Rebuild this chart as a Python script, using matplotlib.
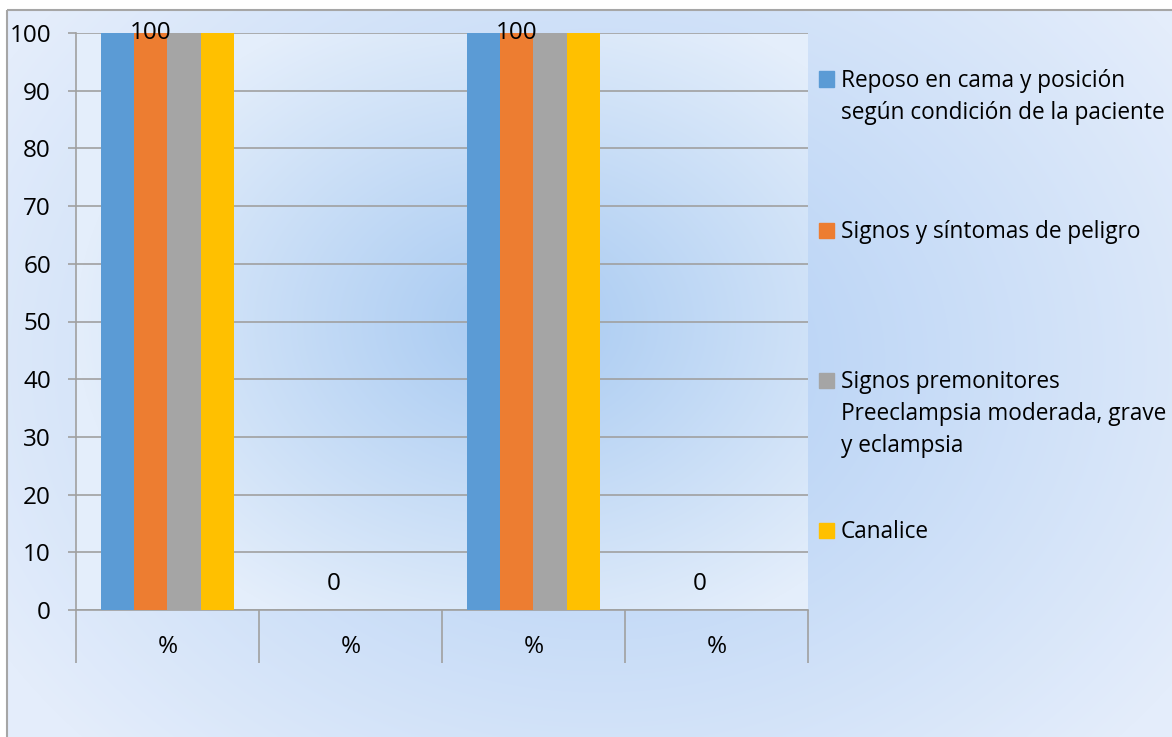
import matplotlib.pyplot as plt
import numpy as np
from matplotlib.patches import Rectangle

categories = ['%', '%', '%', '%']
series_names = [
    'Reposo en cama y posición\nsegún condición de la paciente',
    'Signos y síntomas de peligro',
    'Signos premonitores\nPreeclampsia moderada, grave\ny eclampsia',
    'Canalice',
]
series_values = [
    [100, 0, 100, 0],
    [100, 0, 100, 0],
    [100, 0, 100, 0],
    [100, 0, 100, 0],
]
colors = ['#5b9bd5', '#ed7d31', '#a5a5a5', '#ffc000']
labelled_series = 1  # only the second series carries data labels

W, H = 1172, 737
FS = 17.5
LEG_FS = 16.3
plt.rcParams['font.family'] = ['Open Sans', 'DejaVu Sans']
fig = plt.figure(figsize=(W / 100, H / 100), dpi=100)


def radial(w, h, cx, cy, sx, sy, c0, c1):
    yy, xx = np.mgrid[0:h, 0:w]
    r = np.sqrt(((xx - cx) / sx) ** 2 + ((yy - cy) / sy) ** 2)
    t = np.clip(r, 0, 1)[..., None]
    c0 = np.array(c0) / 255.0
    c1 = np.array(c1) / 255.0
    return c0 * (1 - t) + c1 * t


# chart area background
bg_ax = fig.add_axes([0, 0, 1, 1], zorder=-10)
bg = radial(W, H, 600, 360, 700, 560, (174, 205, 244), (228, 237, 251))
bg[:10, :, :] = 1.0
bg[:, :7, :] = 1.0
bg_ax.imshow(bg, aspect='auto', extent=(0, W, H, 0), interpolation='bilinear')
bg_ax.set_xlim(0, W)
bg_ax.set_ylim(H, 0)
bg_ax.axis('off')
bg_ax.add_patch(Rectangle((7, 10), W, H, fill=False, edgecolor='#a6a6a6', lw=1.5))

# plot area
x0, x1, y0, y1 = 76, 808, 33, 610
ax = fig.add_axes([x0 / W, (H - y1) / H, (x1 - x0) / W, (y1 - y0) / H])
ax.set_facecolor('none')
pa = radial(x1 - x0, y1 - y0, 440, 290, 440, 340, (166, 201, 241), (228, 238, 251))
ax.imshow(pa, aspect='auto', extent=(0, 1, 0, 1), transform=ax.transAxes,
          zorder=0, interpolation='bilinear')

n = len(series_values)
bw = 1 / 5.5
x = np.arange(len(categories))
for i, (name, vals) in enumerate(zip(series_names, series_values)):
    pos = x + (i - (n - 1) / 2) * bw
    ax.bar(pos, vals, width=bw, color=colors[i], zorder=3, label=name)
    if i == labelled_series:
        for p, v in zip(pos, vals):
            if v >= 95:
                ax.text(p, v, f'{v}', ha='center', va='center', fontsize=FS, zorder=4)
            else:
                ax.annotate(f'{v}', (p, v), xytext=(0, 19), textcoords='offset points',
                            ha='center', va='center', fontsize=FS, zorder=4)

ax.set_xlim(-0.5, len(categories) - 0.5)
ax.set_ylim(0, 100)
ax.set_yticks(range(0, 101, 10))
ax.yaxis.grid(True, color='#a0a0a0', lw=1.2, zorder=1)
ax.set_axisbelow(True)

ax.set_xticks(x)
ax.set_xticklabels(categories, fontsize=FS)
ax.set_xticks(np.arange(-0.5, len(categories)), minor=True)
ax.tick_params(axis='x', which='major', length=0, pad=18)
ax.tick_params(axis='x', which='minor', length=38, color='#a0a0a0', width=1.2)
ax.tick_params(axis='y', length=6, color='#a0a0a0', width=1.2, labelsize=FS, pad=12)

for s in ['top', 'right']:
    ax.spines[s].set_visible(False)
for s in ['left', 'bottom']:
    ax.spines[s].set_color('#a0a0a0')
    ax.spines[s].set_linewidth(1.2)

# legend drawn by hand to keep the wide spacing between entries
legend_y = [79, 230, 380, 530]
line_gap = 32
for name, c, ly in zip(series_names, colors, legend_y):
    fig.patches.append(Rectangle((819 / W, 1 - (ly + 7.5) / H), 15 / W, 15 / H,
                                 transform=fig.transFigure, color=c))
    for k, line in enumerate(name.split('\n')):
        fig.text(841 / W, 1 - (ly + 8 + k * line_gap) / H, line, fontsize=LEG_FS,
                 va='baseline', ha='left')

fig.savefig('out.png', dpi=100)
